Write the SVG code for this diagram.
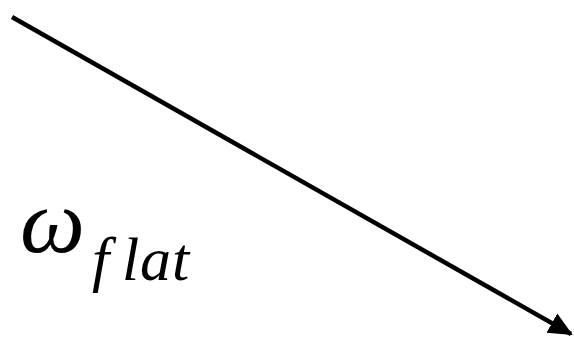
<svg xmlns="http://www.w3.org/2000/svg" width="574" height="340" viewBox="0 0 574 340">
<defs>
<style>
.conn{stroke:#000;stroke-width:4.5;fill:none}
.sym{font-family:'Liberation Serif','Times New Roman',serif;font-style:italic;fill:#000}
</style>
<marker id="ah" markerWidth="24" markerHeight="24" refX="22" refY="12" orient="auto" markerUnits="userSpaceOnUse">
<path d="M0,1 L24,12 L0,23 Z" fill="#000"/>
</marker>
</defs>
<rect width="574" height="340" fill="#fff"/>
<g id="connectors">
<line class="conn" x1="12" y1="17" x2="571" y2="334" marker-end="url(#ah)"/>
</g>
<g id="label">
<text class="sym" x="20" y="252" font-size="92">ω</text>
<text class="sym" font-size="62" y="280"><tspan x="92">f</tspan><tspan x="122">l</tspan><tspan x="140">a</tspan><tspan x="172">t</tspan></text>
</g>
</svg>
